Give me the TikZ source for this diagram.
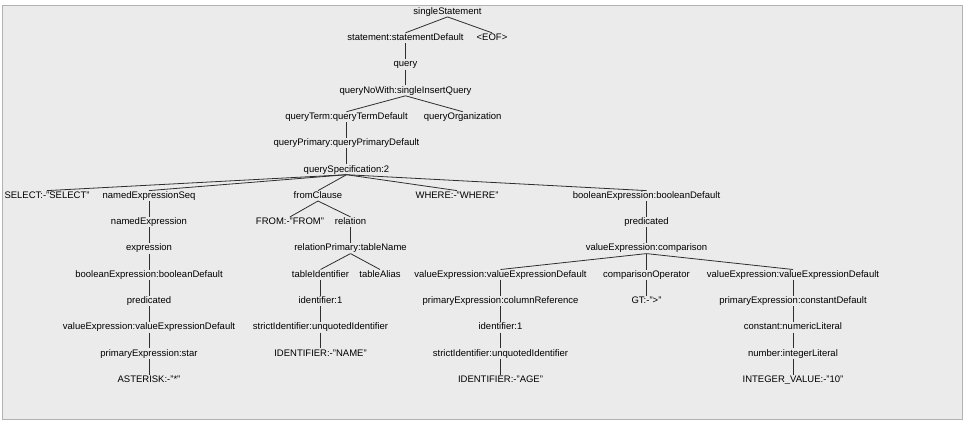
\documentclass[tikz,border=0pt]{standalone}
\usepackage{fontspec}
\setmainfont{Liberation Sans}
\usepackage{tikz}
\definecolor{panel}{HTML}{EBEBEB}
\definecolor{edge}{HTML}{2E2E2E}

\begin{document}
\begin{tikzpicture}[x=1pt, y=-1pt,
        lbl/.style={inner xsep=1pt, inner ysep=0.5pt, text height=7pt, text depth=2pt, font=\fontsize{9.5}{11}\selectfont},
        link/.style={draw=edge, line width=0.8pt}]
            % Panel
            \useasboundingbox (0,0) rectangle (964,421);
            \fill[white] (0,0) rectangle (964,421);
            \draw[black!30, fill=panel] (2,5) rectangle (962,419);
            % Nodes
            \node[lbl] (1) at (447.5, 11.7) {singleStatement};
            \node[lbl] (2) at (405.5, 38.0) {statement:statementDefault};
            \node[lbl] (3) at (492, 38.0) {<EOF>};
            \node[lbl] (4) at (405.5, 64.3) {query};
            \node[lbl] (5) at (405.5, 90.6) {queryNoWith:singleInsertQuery};
            \node[lbl] (6) at (346.5, 116.9) {queryTerm:queryTermDefault};
            \node[lbl] (7) at (462.7, 116.9) {queryOrganization};
            \node[lbl] (8) at (346.5, 143.2) {queryPrimary:queryPrimaryDefault};
            \node[lbl] (9) at (346.5, 169.5) {querySpecification:2};
            \node[lbl] (10) at (47, 195.8) {SELECT:-"SELECT"};
            \node[lbl] (11) at (149, 195.8) {namedExpressionSeq};
            \node[lbl] (12) at (318, 195.8) {fromClause};
            \node[lbl] (13) at (457, 195.8) {WHERE:-"WHERE"};
            \node[lbl] (14) at (646.5, 195.8) {booleanExpression:booleanDefault};
            \node[lbl] (15) at (149, 222.1) {namedExpression};
            \node[lbl] (16) at (290, 222.1) {FROM:-"FROM"};
            \node[lbl] (17) at (350.5, 222.1) {relation};
            \node[lbl] (18) at (646.5, 222.1) {predicated};
            \node[lbl] (19) at (149, 248.4) {expression};
            \node[lbl] (20) at (350.5, 248.4) {relationPrimary:tableName};
            \node[lbl] (21) at (646.5, 248.4) {valueExpression:comparison};
            \node[lbl] (22) at (149, 274.7) {booleanExpression:booleanDefault};
            \node[lbl] (23) at (320.5, 274.7) {tableIdentifier};
            \node[lbl] (24) at (380, 274.7) {tableAlias};
            \node[lbl] (25) at (500.5, 274.7) {valueExpression:valueExpressionDefault};
            \node[lbl] (26) at (646.5, 274.7) {comparisonOperator};
            \node[lbl] (27) at (793, 274.7) {valueExpression:valueExpressionDefault};
            \node[lbl] (28) at (149, 301.0) {predicated};
            \node[lbl] (29) at (320.5, 301.0) {identifier:1};
            \node[lbl] (30) at (500.5, 301.0) {primaryExpression:columnReference};
            \node[lbl] (31) at (646.5, 301.0) {GT:-">"};
            \node[lbl] (32) at (793, 301.0) {primaryExpression:constantDefault};
            \node[lbl] (33) at (149, 327.3) {valueExpression:valueExpressionDefault};
            \node[lbl] (34) at (320.5, 327.3) {strictIdentifier:unquotedIdentifier};
            \node[lbl] (35) at (500.5, 327.3) {identifier:1};
            \node[lbl] (36) at (793, 327.3) {constant:numericLiteral};
            \node[lbl] (37) at (149, 353.6) {primaryExpression:star};
            \node[lbl] (38) at (320.5, 353.6) {IDENTIFIER:-"NAME"};
            \node[lbl] (39) at (500.5, 353.6) {strictIdentifier:unquotedIdentifier};
            \node[lbl] (40) at (793, 353.6) {number:integerLiteral};
            \node[lbl] (41) at (149, 379.9) {ASTERISK:-"*"};
            \node[lbl] (42) at (500.5, 379.9) {IDENTIFIER:-"AGE"};
            \node[lbl] (43) at (793, 379.9) {INTEGER\_VALUE:-"10"};
            % Edges
            \draw[link] (1.south) -- (2.north);
            \draw[link] (1.south) -- (3.north);
            \draw[link] (2.south) -- (4.north);
            \draw[link] (4.south) -- (5.north);
            \draw[link] (5.south) -- (6.north);
            \draw[link] (5.south) -- (7.north);
            \draw[link] (6.south) -- (8.north);
            \draw[link] (8.south) -- (9.north);
            \draw[link] (9.south) -- (10.north);
            \draw[link] (9.south) -- (11.north);
            \draw[link] (9.south) -- (12.north);
            \draw[link] (9.south) -- (13.north);
            \draw[link] (9.south) -- (14.north);
            \draw[link] (11.south) -- (15.north);
            \draw[link] (12.south) -- (16.north);
            \draw[link] (12.south) -- (17.north);
            \draw[link] (14.south) -- (18.north);
            \draw[link] (15.south) -- (19.north);
            \draw[link] (17.south) -- (20.north);
            \draw[link] (18.south) -- (21.north);
            \draw[link] (19.south) -- (22.north);
            \draw[link] (20.south) -- (23.north);
            \draw[link] (20.south) -- (24.north);
            \draw[link] (21.south) -- (25.north);
            \draw[link] (21.south) -- (26.north);
            \draw[link] (21.south) -- (27.north);
            \draw[link] (22.south) -- (28.north);
            \draw[link] (23.south) -- (29.north);
            \draw[link] (25.south) -- (30.north);
            \draw[link] (26.south) -- (31.north);
            \draw[link] (27.south) -- (32.north);
            \draw[link] (28.south) -- (33.north);
            \draw[link] (29.south) -- (34.north);
            \draw[link] (30.south) -- (35.north);
            \draw[link] (32.south) -- (36.north);
            \draw[link] (33.south) -- (37.north);
            \draw[link] (34.south) -- (38.north);
            \draw[link] (35.south) -- (39.north);
            \draw[link] (36.south) -- (40.north);
            \draw[link] (37.south) -- (41.north);
            \draw[link] (39.south) -- (42.north);
            \draw[link] (40.south) -- (43.north);
        \end{tikzpicture}
\end{document}
